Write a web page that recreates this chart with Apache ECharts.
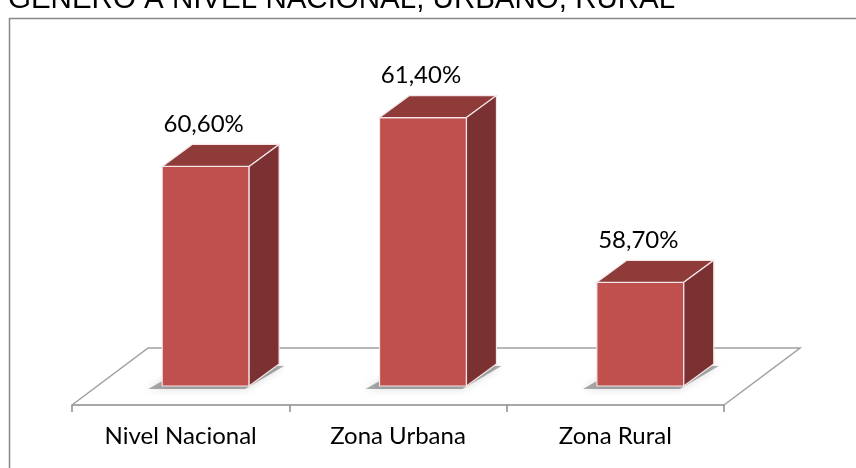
<!DOCTYPE html>
<html>
<head>
<meta charset="utf-8">
<script src="https://cdn.jsdelivr.net/npm/echarts@6/dist/echarts.min.js"></script>
<style>
  html, body { margin: 0; padding: 0; background: #fff; }
  #chart { width: 856px; height: 468px; }
</style>
</head>
<body>
<div id="chart"></div>
<script>
// Data
const titleText = 'GENERO A NIVEL NACIONAL, URBANO, RURAL';
const categories = ['Nivel Nacional', 'Zona Urbana', 'Zona Rural'];
const values = [60.6, 61.4, 58.7];
const axisMin = 57;
const axisMax = 62;

const FONT = 'Lato, "Open Sans", sans-serif';
const fmt = (v) => v.toFixed(2).replace('.', ',') + '%';

// Floor of the 3D plot, built from the category axis ends
function renderFloor(params, api) {
  const bw = api.size([1, 0])[0];
  const l = api.coord([0, axisMin]);
  const r = api.coord([categories.length - 1, axisMin]);
  const xl = l[0] - bw / 2, xr = r[0] + bw / 2;
  const yf = l[1] + 19;
  const fdx = 0.35 * bw, fdy = 57;
  return {
    type: 'polyline',
    shape: { points: [[xl, yf], [xl + fdx, yf - fdy], [xr + fdx, yf - fdy], [xr, yf]] },
    style: { stroke: '#a0a0a0', lineWidth: 1.5, fill: null }
  };
}

// 3D box for each bar
function renderBar(params, api) {
  const i = api.value(0), v = api.value(1);
  const top = api.coord([i, v]);
  const base = api.coord([i, axisMin]);
  const bw = api.size([1, 0])[0];
  const x0 = top[0] - 0.085 * bw, x1 = x0 + 0.4 * bw;
  const dx = 0.138 * bw, dy = 22;
  const yT = top[1], yB = base[1];
  return {
    type: 'group',
    children: [
      {
        type: 'polygon',
        shape: { points: [[x0 - 14, yB + 3], [x1 - 4, yB + 3], [x1 + dx + 5, yB - dy + 2], [x0 + dx, yB - dy]] },
        style: { fill: 'rgba(0,0,0,0.32)', shadowBlur: 8, shadowColor: 'rgba(0,0,0,0.45)' }
      },
      {
        type: 'rect',
        shape: { x: x0, y: yT, width: x1 - x0, height: yB - yT },
        style: { fill: '#c0504d', stroke: '#f4e6e6', lineWidth: 1.2 }
      },
      {
        type: 'polygon',
        shape: { points: [[x0, yT], [x1, yT], [x1 + dx, yT - dy], [x0 + dx, yT - dy]] },
        style: { fill: '#8e3b3a', stroke: '#f4e6e6', lineWidth: 1.2 }
      },
      {
        type: 'polygon',
        shape: { points: [[x1, yT], [x1 + dx, yT - dy], [x1 + dx, yB - dy], [x1, yB]] },
        style: { fill: '#7b3131', stroke: '#f4e6e6', lineWidth: 1.2 }
      },
      {
        type: 'text',
        style: {
          x: (x0 + x1) / 2 - 2, y: yT - dy - 8,
          text: fmt(v), fill: '#000', font: '24px ' + FONT,
          align: 'center', verticalAlign: 'bottom'
        }
      }
    ]
  };
}

const chart = echarts.init(document.getElementById('chart'));
chart.setOption({
  animation: false,
  backgroundColor: '#fff',
  graphic: [
    {
      type: 'rect', left: 7, top: 16,
      shape: { x: 0, y: 0, width: 900, height: 500 },
      style: { fill: null, stroke: '#888', lineWidth: 1.5 }
    },
    {
      type: 'text', x: 8, y: 15,
      style: { text: titleText, fill: '#000', font: '29.5px "Liberation Sans", Arial, sans-serif', verticalAlign: 'bottom' }
    }
  ],
  grid: { left: 72, right: 132, top: 81, bottom: 82 },
  xAxis: {
    type: 'category',
    data: categories,
    offset: 19,
    axisLine: { lineStyle: { color: '#8c8c8c', width: 1.5 } },
    axisTick: { show: true, interval: 0, length: 7, lineStyle: { color: '#8c8c8c', width: 1.5 } },
    axisLabel: { fontSize: 24, fontFamily: FONT, color: '#000', margin: 19 },
    splitLine: { show: false }
  },
  yAxis: { type: 'value', min: axisMin, max: axisMax, show: false },
  series: [
    { type: 'custom', z: 1, renderItem: renderFloor, data: [[0]], silent: true },
    { type: 'custom', z: 2, renderItem: renderBar, data: values.map((v, i) => [i, v]) }
  ]
});
</script>
</body>
</html>
